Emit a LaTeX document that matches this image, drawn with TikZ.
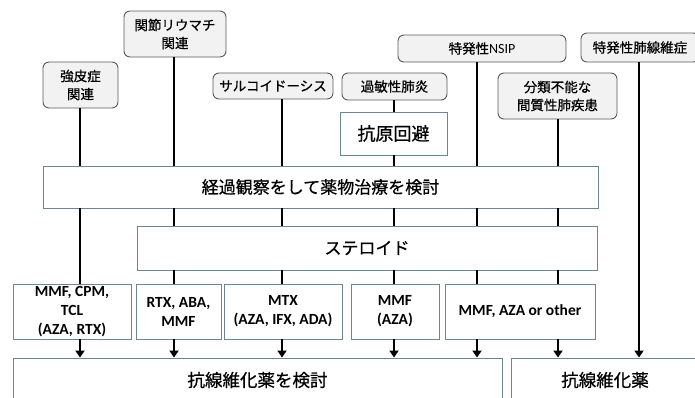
\documentclass[tikz,border=0pt]{standalone}
\usepackage{fontspec}
\setmainfont{Carlito}
\newfontfamily\jp{Noto Sans CJK JP}[FakeBold=0.6]
\newfontfamily\lat{Carlito}
\usetikzlibrary{arrows.meta}
\definecolor{rectline}{RGB}{105,135,150}
\definecolor{roundfill}{RGB}{242,242,242}
\definecolor{roundline}{RGB}{90,90,90}
\tikzset{
  toplabel/.style={draw=roundline, fill=roundfill, rounded corners=6pt, line width=0.9pt,
    inner sep=0pt, align=center, font=\jp\fontsize{13.5}{18}\selectfont},
  rectbox/.style={draw=rectline, fill=white, line width=0.9pt, inner sep=0pt, align=center,
    font=\jp\fontsize{17}{20}\selectfont},
  drugbox/.style={draw=rectline, fill=white, line width=0.9pt, inner sep=0pt, align=center,
    font=\lat\bfseries\fontsize{15.5}{19}\selectfont},
  conn/.style={line width=1.8pt, black},
  arr/.style={conn, -{Triangle[width=9pt,length=7pt]}},
}
\begin{document}
\begin{tikzpicture}[x=1pt, y=-1pt]
\useasboundingbox (0,0) rectangle (695,397);
\clip (0,0) rectangle (695,397);
% columns
\coordinate (k1) at (80,0);
\coordinate (k2) at (174,0);
\coordinate (k3) at (282,0);
\coordinate (k4) at (394,0);
\coordinate (k5) at (477,0);
\coordinate (k6) at (558,0);
\coordinate (k7) at (639,0);
% top labels
\node[toplabel, minimum width=75pt, minimum height=46pt] (sclero) at (80.5,85) {強皮症\\関連};
\node[toplabel, minimum width=102pt, minimum height=46pt] (ra) at (175,34) {関節リウマチ\\関連};
\node[toplabel, minimum width=120pt, minimum height=26pt] (sarc) at (273,86) {サルコイドーシス};
\node[toplabel, minimum width=105pt, minimum height=27pt] (hp) at (394.5,86.5) {過敏性肺炎};
\node[toplabel, minimum width=168pt, minimum height=27pt] (nsip) at (482,48.5) {特発性{\lat\fontsize{14}{18}\selectfont NSIP}};
\node[toplabel, minimum width=118pt, minimum height=29pt] (ipf) at (640,47.5) {特発性肺線維症};
\node[toplabel, minimum width=119pt, minimum height=46pt] (unclass) at (557.5,96) {分類不能な\\間質性肺疾患};
% middle boxes
\node[rectbox, minimum width=107pt, minimum height=43pt, font=\jp\fontsize{18}{20}\selectfont] (avoid) at (393.5,133.5) {抗原回避};
\node[rectbox, minimum width=555pt, minimum height=42pt] (obs) at (320.5,187) {経過観察をして薬物治療を検討};
\node[rectbox, minimum width=460pt, minimum height=44pt] (ster) at (367,248) {ステロイド};
% drug boxes
\node[drugbox, minimum width=118pt, minimum height=55pt] (d1) at (72,311.5) {MMF, CPM,\\TCL\\(AZA, RTX)};
\node[drugbox, minimum width=85pt, minimum height=55pt] (d2) at (178.5,311.5) {RTX, ABA,\\MMF};
\node[drugbox, minimum width=118pt, minimum height=55pt] (d3) at (283,311.5) {MTX\\(AZA, IFX, ADA)};
\node[drugbox, minimum width=88pt, minimum height=55pt] (d4) at (395,311.5) {MMF\\(AZA)};
\node[drugbox, minimum width=150pt, minimum height=55pt] (d5) at (520,311.5) {MMF, AZA or other};
% bottom boxes
\node[rectbox, minimum width=489pt, minimum height=44pt, font=\jp\fontsize{17.5}{20}\selectfont] (af1) at (257.5,380) {抗線維化薬を検討};
\node[rectbox, minimum width=188pt, minimum height=44pt, font=\jp\fontsize{17.5}{20}\selectfont] (af2) at (605,380) {抗線維化薬};
% column 1
\draw[conn] (sclero.south -| k1) -- (obs.north -| k1);
\draw[conn] (obs.south -| k1) -- (d1.north -| k1);
\draw[arr] (d1.south -| k1) -- (af1.north -| k1);
% column 2
\draw[conn] (ra.south -| k2) -- (obs.north -| k2);
\draw[conn] (obs.south -| k2) -- (ster.north -| k2);
\draw[conn] (ster.south -| k2) -- (d2.north -| k2);
\draw[arr] (d2.south -| k2) -- (af1.north -| k2);
% column 3
\draw[conn] (sarc.south -| k3) -- (obs.north -| k3);
\draw[conn] (obs.south -| k3) -- (ster.north -| k3);
\draw[conn] (ster.south -| k3) -- (d3.north -| k3);
\draw[arr] (d3.south -| k3) -- (af1.north -| k3);
% column 4
\draw[conn] (hp.south -| k4) -- (avoid.north -| k4);
\draw[conn] (avoid.south -| k4) -- (obs.north -| k4);
\draw[conn] (obs.south -| k4) -- (ster.north -| k4);
\draw[conn] (ster.south -| k4) -- (d4.north -| k4);
\draw[arr] (d4.south -| k4) -- (af1.north -| k4);
% column 5
\draw[conn] (nsip.south -| k5) -- (obs.north -| k5);
\draw[conn] (obs.south -| k5) -- (ster.north -| k5);
\draw[conn] (ster.south -| k5) -- (d5.north -| k5);
\draw[arr] (d5.south -| k5) -- (af1.north -| k5);
% column 6
\draw[conn] (unclass.south -| k6) -- (obs.north -| k6);
\draw[conn] (obs.south -| k6) -- (ster.north -| k6);
\draw[conn] (ster.south -| k6) -- (d5.north -| k6);
\draw[arr] (d5.south -| k6) -- (af2.north -| k6);
% column 7
\draw[arr] (ipf.south -| k7) -- (af2.north -| k7);
\end{tikzpicture}
\end{document}
